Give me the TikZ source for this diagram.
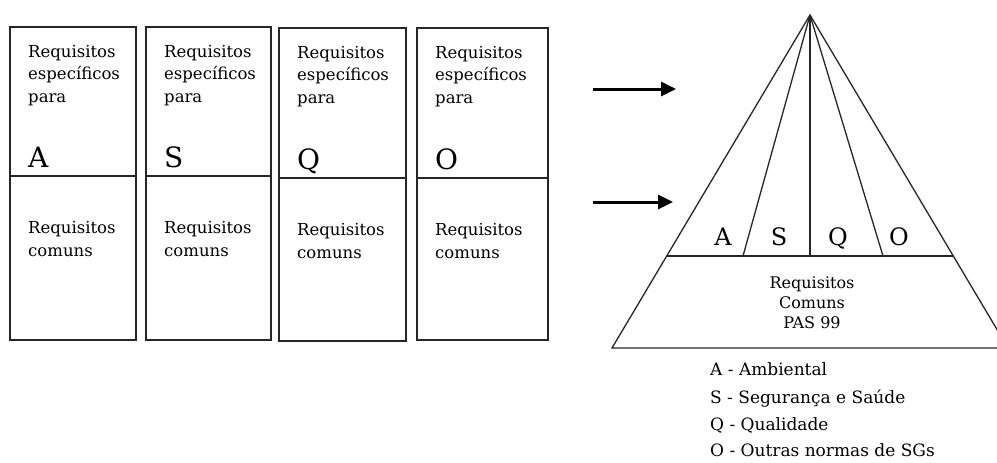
\documentclass[tikz,border=0pt]{standalone}
\usepackage{fontspec}
\setmainfont{DejaVu Serif}
\usetikzlibrary{arrows.meta}

\begin{document}
\begin{tikzpicture}[x=1pt, y=-1pt,
    boxline/.style={draw=black!85, line width=1.3pt},
    txt/.style={inner sep=0pt, anchor=base west, align=left, font=\fontsize{16.5}{22.5}\selectfont},
    legend/.style={inner sep=0pt, anchor=base west, font=\fontsize{17}{20}\selectfont},
    letter/.style={inner sep=0pt, anchor=base west, font=\fontsize{28}{28}\selectfont},
    pyrletter/.style={inner sep=0pt, anchor=base, font=\fontsize{24}{24}\selectfont},
    bigarrow/.style={line width=3pt, -{Triangle[length=15pt,width=14pt]}}]
    % Fix the page size
    \useasboundingbox (0,0) rectangle (997,463);

    % Draw the four requirement columns
    \foreach \name/\xl/\xr/\yt/\ym/\yb in {A/10/136/27/176/340, S/146/271/27/176/340, Q/279/406/28/178/341, O/417/548/28/178/340} {
        \draw[boxline] (\xl,\yt) rectangle (\xr,\yb);
        \draw[boxline] (\xl,\ym) -- (\xr,\ym);
        \node[txt] (spec\name) at (\xl+18,\yt+75) {Requisitos\\específicos\\para};
        \node[letter] (let\name) at (\xl+18,\ym-9) {\name};
        \node[txt] (com\name) at (\xl+18,\ym+80) {Requisitos\\comuns};
    }

    % Define coordinates for the arrows
    \coordinate (arrA) at (593,89);
    \coordinate (arrB) at (676,89);
    \coordinate (arrC) at (593,202);
    \coordinate (arrD) at (673,202);

    % Draw the arrows
    \draw[bigarrow] (arrA) -- (arrB);
    \draw[bigarrow] (arrC) -- (arrD);

    % Define coordinates for the pyramid
    \coordinate (apex) at (810,15);
    \coordinate (baseL) at (612,348);
    \coordinate (baseR) at (1008,348);
    \coordinate (midL) at (667,256);
    \coordinate (midR) at (953,256);

    % Draw the pyramid
    \draw[boxline] (apex) -- (baseL) -- (baseR) -- cycle;
    \draw[boxline] (midL) -- (midR);
    \foreach \x in {743,810,883}
        \draw[boxline] (apex) -- (\x,256);

    % Label the pyramid
    \node[pyrletter] (pyrA) at (723,245) {A};
    \node[pyrletter] (pyrS) at (779,245) {S};
    \node[pyrletter] (pyrQ) at (838,245) {Q};
    \node[pyrletter] (pyrO) at (899,245) {O};
    \node[inner sep=0pt, anchor=base, align=center, font=\fontsize{16}{20}\selectfont] (common) at (812,328) {Requisitos\\Comuns\\PAS 99};

    % Legend
    \node[legend] (legA) at (710,375) {A - Ambiental};
    \node[legend] (legS) at (710,403) {S - Segurança e Saúde};
    \node[legend] (legQ) at (710,430) {Q - Qualidade};
    \node[legend] (legO) at (710,456) {O - Outras normas de SGs};
\end{tikzpicture}
\end{document}
